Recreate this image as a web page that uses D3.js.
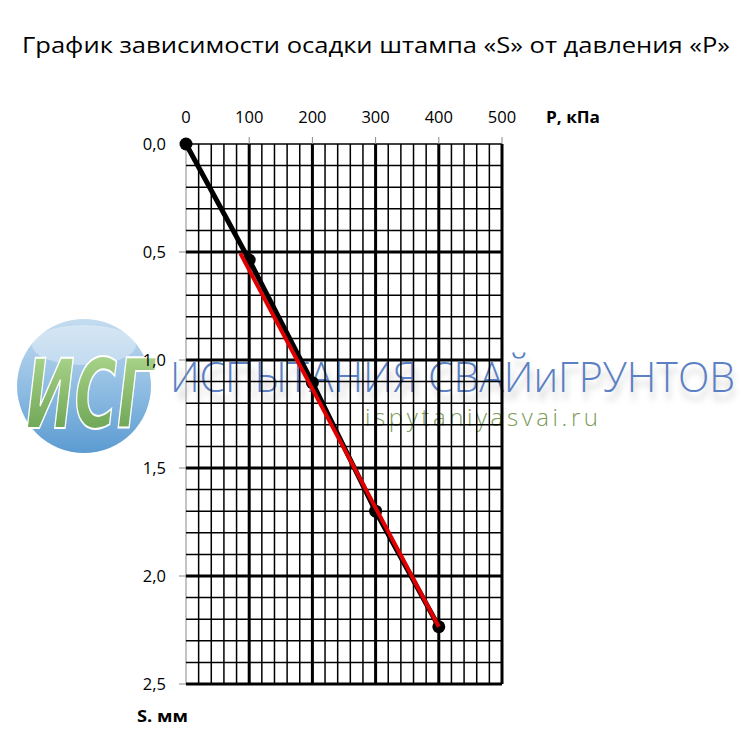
<!DOCTYPE html>
<html><head><meta charset="utf-8">
<script src="https://cdn.jsdelivr.net/npm/d3@7"></script>
<style>body{margin:0;background:#fff}svg{display:block}</style>
</head><body>
<script>
// ---- data ----
const pressure = [0, 100, 200, 300, 400];          // P, kPa
const settlement = [0, 0.537, 1.105, 1.70, 2.235];   // S, mm
const trendP = [86, 400];
const trendS = [0.506, 2.235];
const xTicks = [0, 100, 200, 300, 400, 500];
const yTicks = [0, 0.5, 1.0, 1.5, 2.0, 2.5];
const yTickLabels = ["0,0", "0,5", "1,0", "1,5", "2,0", "2,5"];
const titleText = "График зависимости осадки штампа «S» от давления «P»";

const W = 752, H = 748;
const svg = d3.select("body").append("svg").attr("width", W).attr("height", H);
const defs = svg.append("defs");

const x = d3.scaleLinear().domain([0, 500]).range([186, 502]);
const y = d3.scaleLinear().domain([0, 2.5]).range([144, 684]);

// ---- watermark (behind chart) ----
const bg = defs.append("linearGradient").attr("id", "bgrad").attr("x1", 0).attr("y1", 0).attr("x2", 0).attr("y2", 1);
bg.append("stop").attr("offset", "0%").attr("stop-color", "#c4dcf0");
bg.append("stop").attr("offset", "55%").attr("stop-color", "#8cbbe2");
bg.append("stop").attr("offset", "100%").attr("stop-color", "#5b9bd1");
const gg = defs.append("linearGradient").attr("id", "ggrad").attr("x1", 0).attr("y1", 0).attr("x2", 0).attr("y2", 1);
gg.append("stop").attr("offset", "0%").attr("stop-color", "#b5dc95");
gg.append("stop").attr("offset", "100%").attr("stop-color", "#5f9a48");
const blur = defs.append("filter").attr("id", "blur").attr("x", "-10%").attr("y", "-50%").attr("width", "120%").attr("height", "200%");
blur.append("feGaussianBlur").attr("stdDeviation", 3);

const wm = svg.append("g");
wm.append("circle").attr("cx", 84).attr("cy", 386).attr("r", 67).attr("fill", "url(#bgrad)");
wm.append("ellipse").attr("cx", 84).attr("cy", 345).attr("rx", 52).attr("ry", 20).attr("fill", "#ffffff").attr("opacity", 0.35);
wm.append("text").attr("x", 26).attr("y", 428)
  .attr("font-family", "DejaVu Sans").attr("font-weight", "bold").attr("font-style", "italic")
  .attr("font-size", 96).attr("fill", "url(#ggrad)").attr("stroke", "#ffffff").attr("stroke-width", 2)
  .attr("textLength", 128).attr("lengthAdjust", "spacingAndGlyphs").text("ИСГ");
wm.append("text").attr("x", 176).attr("y", 400)
  .attr("font-family", "Open Sans").attr("font-weight", 300).attr("font-size", 42)
  .attr("fill", "#999").attr("opacity", 0.5).attr("filter", "url(#blur)")
  .attr("textLength", 560).attr("lengthAdjust", "spacingAndGlyphs").text("ИСПЫТАНИЯ СВАЙиГРУНТОВ");
wm.append("text").attr("x", 170).attr("y", 392)
  .attr("font-family", "Open Sans").attr("font-weight", 300).attr("font-size", 42)
  .attr("fill", "#5b80c3")
  .attr("textLength", 565).attr("lengthAdjust", "spacingAndGlyphs").text("ИСПЫТАНИЯ СВАЙиГРУНТОВ");
wm.append("text").attr("x", 365).attr("y", 426)
  .attr("font-family", "Open Sans").attr("font-weight", 300).attr("font-size", 24)
  .attr("fill", "#7d9c5c")
  .attr("textLength", 233).attr("lengthAdjust", "spacing").text("ispytaniyasvai.ru");

// ---- title ----
svg.append("text").attr("x", 22).attr("y", 53)
  .attr("font-family", "Open Sans").attr("font-size", 22.5).attr("fill", "#000")
  .attr("textLength", 708).attr("lengthAdjust", "spacingAndGlyphs").text(titleText);

// ---- grid ----
const grid = svg.append("g");
const vx = d3.range(0, 501, 20);
const hy = d3.range(0, 26, 1).map(d => d / 10);
grid.selectAll(".vl").data(vx).join("line")
  .attr("x1", d => x(d)).attr("x2", d => x(d)).attr("y1", y(0)).attr("y2", y(2.5))
  .attr("stroke", d => d === 0 ? "#8a8a8a" : "#000")
  .attr("stroke-width", d => d === 0 ? 1 : (d % 100 === 0 ? 3 : 1.5));
grid.selectAll(".hl").data(hy).join("line")
  .attr("x1", x(0)).attr("x2", x(500)).attr("y1", d => y(d)).attr("y2", d => y(d))
  .attr("stroke", "#000")
  .attr("stroke-width", d => d === 0 ? 1.5 : (Math.round(d * 10) % 5 === 0 ? 3 : 1.5));

// ticks
grid.selectAll(".xt").data(xTicks.filter(d => d > 0)).join("line")
  .attr("x1", d => x(d)).attr("x2", d => x(d)).attr("y1", y(0) - 7).attr("y2", y(0))
  .attr("stroke", "#8a8a8a").attr("stroke-width", 1);
grid.selectAll(".yt").data(yTicks.filter(d => d > 0)).join("line")
  .attr("x1", x(0) - 7).attr("x2", x(0)).attr("y1", d => y(d)).attr("y2", d => y(d))
  .attr("stroke", "#8a8a8a").attr("stroke-width", 1);

// labels
svg.selectAll(".xl").data(xTicks).join("text")
  .attr("x", d => x(d)).attr("y", 123).attr("text-anchor", "middle")
  .attr("font-family", "Open Sans").attr("font-size", 16.5).attr("fill", "#000").text(d => d);
svg.selectAll(".yl").data(yTicks).join("text")
  .attr("x", 166).attr("y", d => y(d) + 6).attr("text-anchor", "end")
  .attr("font-family", "Open Sans").attr("font-size", 16.5).attr("fill", "#000")
  .text((d, i) => yTickLabels[i]);
svg.append("text").attr("x", 546).attr("y", 123)
  .attr("font-family", "Open Sans").attr("font-weight", "bold").attr("font-size", 16)
  .attr("textLength", 54).attr("lengthAdjust", "spacingAndGlyphs").text("P, кПа");
svg.append("text").attr("x", 137).attr("y", 722)
  .attr("font-family", "Open Sans").attr("font-weight", "bold").attr("font-size", 16)
  .attr("textLength", 51).attr("lengthAdjust", "spacingAndGlyphs").text("S. мм");

// ---- series ----
const pts = pressure.map((p, i) => [p, settlement[i]]);
const line = d3.line().x(d => x(d[0])).y(d => y(d[1]));
svg.append("path").datum(pts).attr("d", line).attr("fill", "none")
  .attr("stroke", "#000").attr("stroke-width", 5).attr("stroke-linejoin", "round");
svg.selectAll(".pt").data(pts).join("circle")
  .attr("cx", d => x(d[0])).attr("cy", d => y(d[1])).attr("r", 6.5).attr("fill", "#000");
const tr = trendP.map((p, i) => [p, trendS[i]]);
svg.append("path").datum(tr).attr("d", line).attr("fill", "none")
  .attr("stroke", "#e00000").attr("stroke-width", 4);
</script>
</body></html>
